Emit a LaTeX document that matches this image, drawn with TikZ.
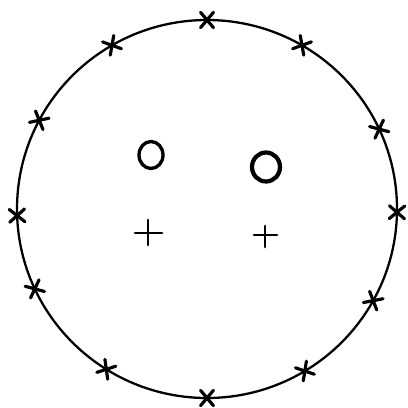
\documentclass[tikz,border=0pt]{standalone}
\usepackage{tikz}
\usetikzlibrary{calc}

\begin{document}
\begin{tikzpicture}[x=0.02cm,y=0.02cm,
    rim/.style={line width=1.3pt},
    crossline/.style={line width=1.8pt,line cap=round},
    eyeline/.style={line width=1.9pt},
    plusline/.style={line width=1.6pt,line cap=round}]
    \useasboundingbox (0,0) rectangle (408,407);
    % Centre and rim
    \coordinate (ctr) at (207,198);
    \draw[rim] (ctr) circle[x radius=190, y radius=189];
    % Marks on the rim
    \foreach \a in {90,60,25,-1,-29,-59,-90,-122,-155,-178,152,120} {
        \coordinate (m\a) at ($(ctr)+(\a:190 and 189)$);
        \draw[crossline] ($(m\a)+(\a+40:10)$) -- ($(m\a)+(\a+220:10)$);
        \draw[crossline] ($(m\a)+(\a-40:10)$) -- ($(m\a)+(\a+140:10)$);
    }
    % The two rings
    \coordinate (ringL) at (151,252);
    \coordinate (ringR) at (266,240);
    \draw[eyeline] (ringL) ellipse[x radius=12, y radius=13.5];
    \draw[eyeline,line width=2.4pt] (ringR) ellipse[x radius=14, y radius=14.5];
    % The two plus signs
    \coordinate (plusL) at (148,174);
    \coordinate (plusR) at (265,172);
    \draw[plusline] ($(plusL)+(-13,0)$) -- ($(plusL)+(14,0)$);
    \draw[plusline] ($(plusL)+(0,13)$) -- ($(plusL)+(0,-12)$);
    \draw[plusline] ($(plusR)+(-11,0)$) -- ($(plusR)+(12,0)$);
    \draw[plusline] ($(plusR)+(0,9)$) -- ($(plusR)+(0,-12)$);
\end{tikzpicture}
\end{document}
